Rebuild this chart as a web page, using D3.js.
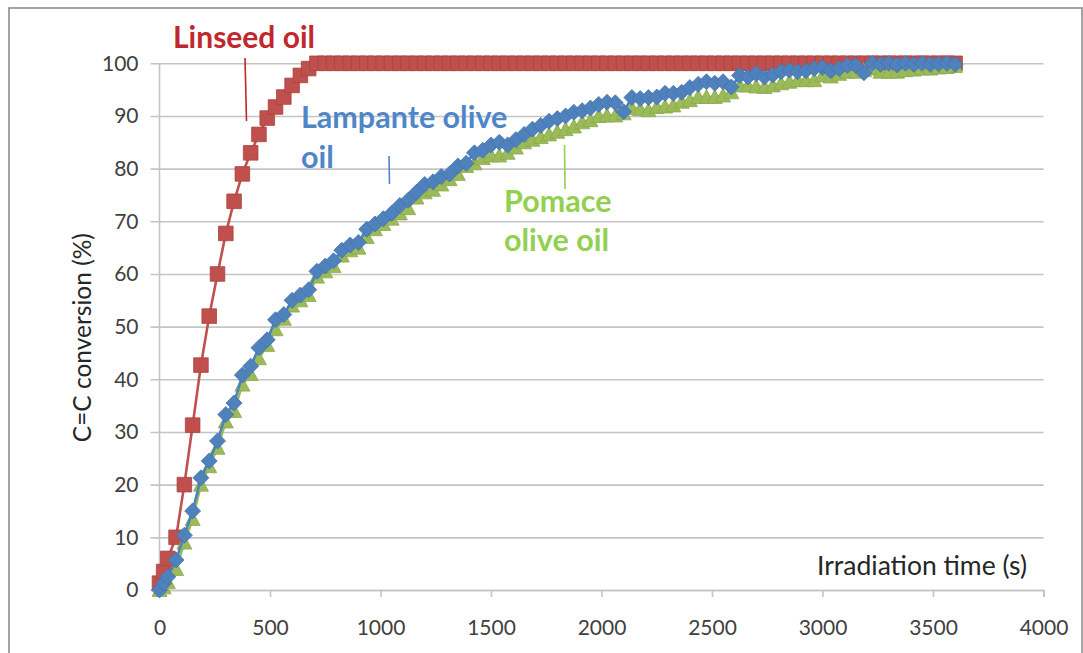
<!DOCTYPE html>
<html>
<head>
<meta charset="utf-8">
<script src="https://cdn.jsdelivr.net/npm/d3@7"></script>
<style>
  html, body { margin: 0; padding: 0; background: #ffffff; }
  svg { display: block; font-family: Lato, "Open Sans", sans-serif; }
</style>
</head>
<body>
<svg id="chart" width="1083" height="653"></svg>
<script>
// Irradiation time of each spectrum (s)
const sampleTime = [0, 18.75,
  37.5, 75, 112.5, 150, 187.5, 225, 262.5, 300, 337.5, 375, 412.5, 450, 487.5, 525, 562.5, 600,
  637.5, 675, 712.5, 750, 787.5, 825, 862.5, 900, 937.5, 975, 1012.5, 1050, 1087.5, 1125, 1162.5, 1200,
  1237.5, 1275, 1312.5, 1350, 1387.5, 1425, 1462.5, 1500, 1537.5, 1575, 1612.5, 1650, 1687.5, 1725, 1762.5, 1800,
  1837.5, 1875, 1912.5, 1950, 1987.5, 2025, 2062.5, 2100, 2137.5, 2175, 2212.5, 2250, 2287.5, 2325, 2362.5, 2400,
  2437.5, 2475, 2512.5, 2550, 2587.5, 2625, 2662.5, 2700, 2737.5, 2775, 2812.5, 2850, 2887.5, 2925, 2962.5, 3000,
  3037.5, 3075, 3112.5, 3150, 3187.5, 3225, 3262.5, 3300, 3337.5, 3375, 3412.5, 3450, 3487.5, 3525, 3562.5, 3600];

// C=C conversion (%) for each oil
const linseedConv = [1.3, 3.5,
  6, 10, 20, 31.3, 42.7, 52, 60, 67.7, 73.8, 79, 83, 86.5, 89.6, 91.7, 93.6, 95.8,
  97.7, 99, 100, 100, 100, 100, 100, 100, 100, 100, 100, 100, 100, 100, 100, 100,
  100, 100, 100, 100, 100, 100, 100, 100, 100, 100, 100, 100, 100, 100, 100, 100,
  100, 100, 100, 100, 100, 100, 100, 100, 100, 100, 100, 100, 100, 100, 100, 100,
  100, 100, 100, 100, 100, 100, 100, 100, 100, 100, 100, 100, 100, 100, 100, 100,
  100, 100, 100, 100, 100, 100, 100, 100, 100, 100, 100, 100, 100, 100, 100, 100];

const lampanteConv = [0, 1.3,
  2.5, 5.7, 10.4, 15, 21.3, 24.5, 28.3, 33.3, 35.5, 40.8, 42.5, 46, 47.5, 51.3, 52.3, 55,
  56, 57, 60.5, 61.5, 62.5, 64.5, 65.5, 66, 68.5, 69.5, 70.5, 71.5, 73, 74, 75.5, 77,
  77.5, 78.5, 79, 80.5, 81, 83, 83.5, 84.5, 85, 84.5, 85.5, 86.5, 87.5, 88.2, 89, 89.5,
  90, 90.7, 91, 91.5, 92.2, 92.6, 92.5, 90.8, 93.5, 93.3, 93.5, 93.6, 94.3, 94.3, 94.5, 95.4,
  96, 96.5, 96.2, 96.5, 95.5, 97.7, 97.4, 98, 97.4, 97.8, 98.4, 98.7, 98.4, 98.6, 99, 99.2,
  98.6, 99, 99.6, 99.6, 98.2, 100, 99.8, 100, 99.7, 100, 99.8, 100, 99.8, 99.9, 100, 99.8];

const pomaceConv = [0, 0.5,
  1.5, 4, 9, 13.5, 20, 23.5, 27, 32, 34, 39, 41, 44, 46.5, 49.5, 51.5, 54,
  55, 56, 59.5, 60.5, 61.5, 63.5, 64.5, 65, 67, 68.5, 69.5, 70.5, 71.5, 72.5, 74.5, 75.5,
  76, 77, 78, 79, 80.5, 81, 82, 82.5, 82.5, 83, 84, 85, 85.5, 86, 86.5, 87,
  87.5, 88, 88.8, 89.2, 90, 90.1, 90.1, 90.5, 91.5, 91.3, 91.1, 91.7, 91.8, 92, 92.7, 93,
  93.6, 93.6, 93.6, 93.9, 94.5, 95.8, 95.8, 95.6, 95.5, 95.8, 96.2, 96.5, 96.8, 96.8, 96.8, 97.7,
  97.5, 98, 98.4, 98.4, 98.7, 99, 98.4, 98.4, 98.4, 98.7, 98.8, 99, 99, 99.2, 99.3, 99.5];

const xTicks = [0, 500, 1000, 1500, 2000, 2500, 3000, 3500, 4000];
const yTicks = [0, 10, 20, 30, 40, 50, 60, 70, 80, 90, 100];

const svg = d3.select("#chart");

const x = d3.scaleLinear().domain([0, 4000]).range([159.5, 1043.5]);
const y = d3.scaleLinear().domain([0, 100]).range([590, 63.3]);

// chart frame
svg.append("rect")
  .attr("x", 9).attr("y", 8).attr("width", 1073).attr("height", 680)
  .attr("fill", "#ffffff").attr("stroke", "#8c8c8c").attr("stroke-width", 1.6);

// horizontal gridlines + y axis
const yAxis = d3.axisLeft(y).tickValues(yTicks).tickSize(x.range()[1] - x.range()[0] + 9)
  .tickPadding(12).tickFormat(d3.format("d"));
const gy = svg.append("g").attr("transform", `translate(${x.range()[1]},0)`).call(yAxis);
gy.select(".domain").remove();
gy.selectAll(".tick line").attr("stroke", "#c4c4c4").attr("stroke-width", 1.6);
gy.selectAll(".tick text").attr("fill", "#404040").attr("font-size", 21)
  .attr("font-family", "Lato, sans-serif");

// vertical axis line
svg.append("line")
  .attr("x1", x(0)).attr("x2", x(0)).attr("y1", y(100)).attr("y2", y(0))
  .attr("stroke", "#c4c4c4").attr("stroke-width", 1.6);

// x axis
const xAxis = d3.axisBottom(x).tickValues(xTicks).tickSize(7).tickPadding(10)
  .tickFormat(d3.format("d"));
const gx = svg.append("g").attr("transform", `translate(0,${y(0)})`).call(xAxis);
gx.select(".domain").attr("stroke", "#c4c4c4").attr("stroke-width", 1.6);
gx.selectAll(".tick line").attr("stroke", "#c4c4c4").attr("stroke-width", 1.6);
gx.selectAll(".tick text").attr("fill", "#404040").attr("font-size", 21)
  .attr("font-family", "Lato, sans-serif").attr("y", 45).attr("dy", 0);

// axis titles
svg.append("text")
  .attr("transform", `translate(91,${(y(0) + y(100)) / 2 + 11}) rotate(-90)`)
  .attr("text-anchor", "middle").attr("font-size", 24.5).attr("fill", "#262626")
  .text("C=C conversion (%)");
svg.append("text")
  .attr("x", 1027).attr("y", 575).attr("text-anchor", "end")
  .attr("font-size", 26.5).attr("fill", "#262626")
  .text("Irradiation time (s)");

const series = [
  { name: "Linseed oil", values: linseedConv, color: "#C0504D", edge: "#a9423f", shape: "square" },
  { name: "Pomace olive oil", values: pomaceConv, color: "#9BBB59", edge: "#8aa94c", shape: "triangle" },
  { name: "Lampante olive oil", values: lampanteConv, color: "#4F81BD", edge: "#4473ab", shape: "diamond" }
];

const markerPath = {
  square: "M-7.3,-7.3H7.3V7.3H-7.3Z",
  diamond: "M0,-8L8,0L0,8L-8,0Z",
  triangle: "M0,-7.5L7.5,6.5H-7.5Z"
};

const line = d3.line().x(d => x(d[0])).y(d => y(d[1]));

series.forEach(s => {
  const pts = sampleTime.map((t, i) => [t, s.values[i]]);
  const g = svg.append("g");
  g.append("path").datum(pts).attr("d", line)
    .attr("fill", "none").attr("stroke", s.color).attr("stroke-width", 2.6)
    .attr("stroke-linejoin", "round");
  g.selectAll("path.mk").data(pts).join("path").attr("class", "mk")
    .attr("transform", d => `translate(${x(d[0])},${y(d[1])})`)
    .attr("d", markerPath[s.shape])
    .attr("fill", s.color).attr("stroke", s.edge).attr("stroke-width", 0.8);
});

// series annotations with leader lines
const notes = [
  { lines: ["Linseed oil"], x: 173, y: 48, size: 30, color: "#C0282D",
    leader: [245, 58, 246.5, 121] },
  { lines: ["Lampante olive", "oil"], x: 301, y: 128, size: 30.5, color: "#4F86C8",
    leader: [389, 156, 389.5, 184] },
  { lines: ["Pomace", "olive oil"], x: 504, y: 211.5, size: 30.5, color: "#92D050",
    leader: [564.5, 145, 565, 189] }
];
notes.forEach(n => {
  const t = svg.append("text").attr("x", n.x).attr("y", n.y)
    .attr("font-size", n.size).attr("font-weight", "bold").attr("fill", n.color);
  n.lines.forEach((l, i) => t.append("tspan").attr("x", n.x).attr("dy", i === 0 ? 0 : 39.5).text(l));
  svg.append("line")
    .attr("x1", n.leader[0]).attr("y1", n.leader[1]).attr("x2", n.leader[2]).attr("y2", n.leader[3])
    .attr("stroke", n.color).attr("stroke-width", 1.6);
});
</script>
</body>
</html>
